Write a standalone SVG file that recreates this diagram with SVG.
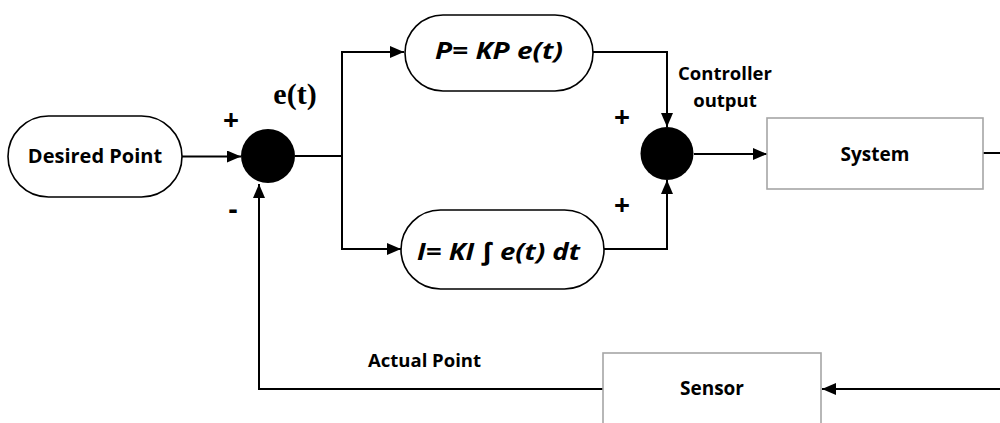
<svg xmlns="http://www.w3.org/2000/svg" width="1000" height="423" viewBox="0 0 1000 423">
<defs>
<marker id="arr" markerUnits="userSpaceOnUse" markerWidth="14" markerHeight="12" viewBox="0 0 14 12" refX="14" refY="6" orient="auto">
<path d="M0 0 L14 6 L0 12 Z" fill="#000"/>
</marker>
<style>
.ln{fill:none;stroke:#000;stroke-width:2}
.ar{marker-end:url(#arr)}
.term{fill:#fff;stroke:#000;stroke-width:1.6}
.blk{fill:#fff;stroke:#a6a6a6;stroke-width:1.6}
.sum{fill:#000}
.t{font-family:"Open Sans","Liberation Sans",sans-serif;font-weight:bold;fill:#000;text-anchor:middle}
.eq{font-family:"Open Sans","Liberation Sans",sans-serif;font-weight:bold;font-style:italic;fill:#000;text-anchor:middle}
.sg{font-family:"Open Sans","Liberation Sans",sans-serif;font-weight:bold;fill:#000;text-anchor:middle;font-size:28px}
.et{font-family:"Liberation Serif","Times New Roman",serif;font-weight:bold;fill:#000;text-anchor:middle;font-size:30px}
</style>
</defs>
<g id="connectors">
<path class="ln ar" d="M182 156.5 H241"/>
<path class="ln" d="M295 156 H342"/>
<path class="ln ar" d="M342 156 V52 H404"/>
<path class="ln ar" d="M342 156 V249 H401"/>
<path class="ln ar" d="M593 52 H667 V127"/>
<path class="ln ar" d="M604 249 H667 V180"/>
<path class="ln ar" d="M694 154 H767"/>
<path class="ln ar" d="M983 153 H1012 V389 H822"/>
<path class="ln ar" d="M603 389 H259 V184"/>
</g>
<g id="desired">
<rect class="term" x="8" y="116" width="174" height="81" rx="40.5"/>
<text class="t" x="95" y="163" font-size="20">Desired Point</text>
</g>
<g id="sum1">
<circle class="sum" cx="268" cy="156" r="27"/>
<text class="sg" x="231" y="130">+</text>
<text class="sg" x="233" y="219">-</text>
<text class="et" x="295" y="104">e(t)</text>
</g>
<g id="p-term">
<rect class="term" x="405" y="15" width="188" height="76" rx="38"/>
<text class="eq" x="499" y="59" font-size="24" textLength="128" lengthAdjust="spacingAndGlyphs">P= KP e(t)</text>
</g>
<g id="i-term">
<rect class="term" x="401" y="210" width="203" height="79" rx="39.5"/>
<text class="eq" x="498.5" y="260" font-size="24" textLength="163" lengthAdjust="spacingAndGlyphs">I= KI ∫ e(t) dt</text>
</g>
<g id="sum2">
<circle class="sum" cx="667" cy="153.5" r="26.5"/>
<text class="sg" x="622" y="127">+</text>
<text class="sg" x="622" y="215">+</text>
<text class="t" x="725" y="80" font-size="18.5">Controller</text>
<text class="t" x="725" y="107" font-size="18.5">output</text>
</g>
<g id="system">
<rect class="blk" x="767" y="118" width="216" height="71"/>
<text class="t" x="875" y="161" font-size="19">System</text>
</g>
<g id="sensor">
<rect class="blk" x="603" y="353" width="218" height="90"/>
<text class="t" x="712" y="395" font-size="19">Sensor</text>
</g>
<g id="actual">
<text class="t" x="424.5" y="367" font-size="18.5">Actual Point</text>
</g>
</svg>
